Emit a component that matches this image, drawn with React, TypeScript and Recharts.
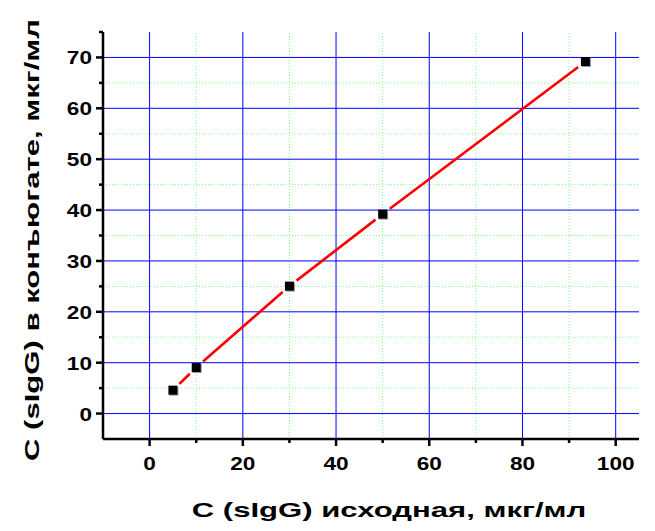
import React from 'react';
import { ComposedChart, XAxis, YAxis, Scatter, ReferenceLine, Label } from 'recharts';

const xValues = [5, 10, 30, 50, 93.5];
const yValues = [4.6, 9.05, 25.05, 39.2, 69.2];
const xMajor = [0, 20, 40, 60, 80, 100];
const xMinor = [10, 30, 50, 70, 90];
const yMajor = [0, 10, 20, 30, 40, 50, 60, 70];
const yMinor = [5, 15, 25, 35, 45, 55, 65, 75];
const xTitle = 'C (sIgG) исходная, мкг/мл';
const yTitle = 'C (sIgG) в конъюгате, мкг/мл';

const data = xValues.map((x, i) => ({ x, y: yValues[i] }));
const FONT = "'Liberation Sans', Arial, Helvetica, sans-serif";
const GAP = 9;
const TICK_SX = 1.19;
const TITLE_SX = 1.48;

const XTick = (props: any) => {
  const { x, y, payload } = props;
  const v = payload.value;
  const major = xMajor.includes(v);
  return (
    <g>
      <line x1={x} y1={y} x2={x} y2={y + (major ? 7 : 4)} stroke="#000" strokeWidth={2.5} />
      {major && (
        <text
          x={0}
          y={0}
          transform={`translate(${x},${y + 31}) scale(${TICK_SX},1)`}
          textAnchor="middle"
          fontSize={19}
          fontWeight="bold"
          fontFamily={FONT}
          fill="#000"
        >
          {v}
        </text>
      )}
    </g>
  );
};

const YTick = (props: any) => {
  const { x, y, payload } = props;
  const v = payload.value;
  const major = yMajor.includes(v);
  return (
    <g>
      <line x1={x} y1={y} x2={x - (major ? 7 : 4)} y2={y} stroke="#000" strokeWidth={2.5} />
      {major && (
        <text
          x={0}
          y={0}
          transform={`translate(${x - 11},${y + 7}) scale(${TICK_SX},1)`}
          textAnchor="end"
          fontSize={19}
          fontWeight="bold"
          fontFamily={FONT}
          fill="#000"
        >
          {v}
        </text>
      )}
    </g>
  );
};

const GappedLine = (props: any) => {
  const pts: any[] = props.points || [];
  const segs: string[] = [];
  for (let i = 0; i < pts.length - 1; i++) {
    const a = pts[i];
    const b = pts[i + 1];
    const ax = a.x ?? a.cx;
    const ay = a.y ?? a.cy;
    const bx = b.x ?? b.cx;
    const by = b.y ?? b.cy;
    const dx = bx - ax;
    const dy = by - ay;
    const len = Math.sqrt(dx * dx + dy * dy);
    if (len <= 2 * GAP) continue;
    const ux = dx / len;
    const uy = dy / len;
    segs.push(`M${ax + ux * GAP},${ay + uy * GAP}L${bx - ux * GAP},${by - uy * GAP}`);
  }
  return <path d={segs.join(' ')} stroke="#ff0000" strokeWidth={2.6} fill="none" />;
};

const Marker = (props: any) => {
  const { cx, cy } = props;
  const s = 9;
  return (
    <g>
      <rect x={cx - s / 2 + 1} y={cy - s / 2 + 1} width={s} height={s} fill="#999" />
      <rect x={cx - s / 2} y={cy - s / 2} width={s} height={s} fill="#000" />
    </g>
  );
};

export default function App() {
  return (
    <ComposedChart width={639} height={515} data={data} margin={{ top: 24, right: 8, left: 0, bottom: 0 }}>
      <XAxis
        type="number"
        dataKey="x"
        domain={[-10, 105]}
        ticks={[...xMajor, ...xMinor].sort((a, b) => a - b)}
        interval={0}
        tickSize={0}
        tickMargin={0}
        tick={<XTick />}
        tickLine={false}
        axisLine={{ stroke: '#000', strokeWidth: 2.5 }}
        height={84}
        allowDataOverflow
      >
        <Label
          content={() => (
            <text
              x={0}
              y={0}
              transform={`translate(381,509) scale(${TITLE_SX},1)`}
              textAnchor="middle"
              fontSize={21}
              fontWeight="bold"
              fontFamily={FONT}
              fill="#000"
            >
              {xTitle}
            </text>
          )}
        />
      </XAxis>
      <YAxis
        type="number"
        dataKey="y"
        domain={[-5, 75]}
        ticks={[...yMajor, ...yMinor].sort((a, b) => a - b)}
        interval={0}
        tickSize={0}
        tickMargin={0}
        tick={<YTick />}
        tickLine={false}
        axisLine={{ stroke: '#000', strokeWidth: 2.5 }}
        width={95}
        allowDataOverflow
      >
        <Label
          content={() => (
            <text
              x={0}
              y={0}
              transform={`translate(31,232) rotate(-90) scale(${TITLE_SX},1)`}
              textAnchor="middle"
              fontSize={21}
              fontWeight="bold"
              fontFamily={FONT}
              fill="#000"
            >
              {yTitle}
            </text>
          )}
        />
      </YAxis>
      {xMinor.map((v) => (
        <ReferenceLine key={'xm' + v} x={v} stroke="#80ff80" strokeWidth={1} strokeDasharray="1 2" />
      ))}
      {yMinor.filter((v) => v < 75).map((v) => (
        <ReferenceLine key={'ym' + v} y={v} stroke="#80ff80" strokeWidth={1} strokeDasharray="1 2" />
      ))}
      {xMajor.map((v) => (
        <ReferenceLine key={'xM' + v} x={v} stroke="#0000ff" strokeWidth={1} />
      ))}
      {yMajor.map((v) => (
        <ReferenceLine key={'yM' + v} y={v} stroke="#0000ff" strokeWidth={1} />
      ))}
      <Scatter dataKey="y" data={data} isAnimationActive={false} line={GappedLine} shape={<Marker />} />
    </ComposedChart>
  );
}
